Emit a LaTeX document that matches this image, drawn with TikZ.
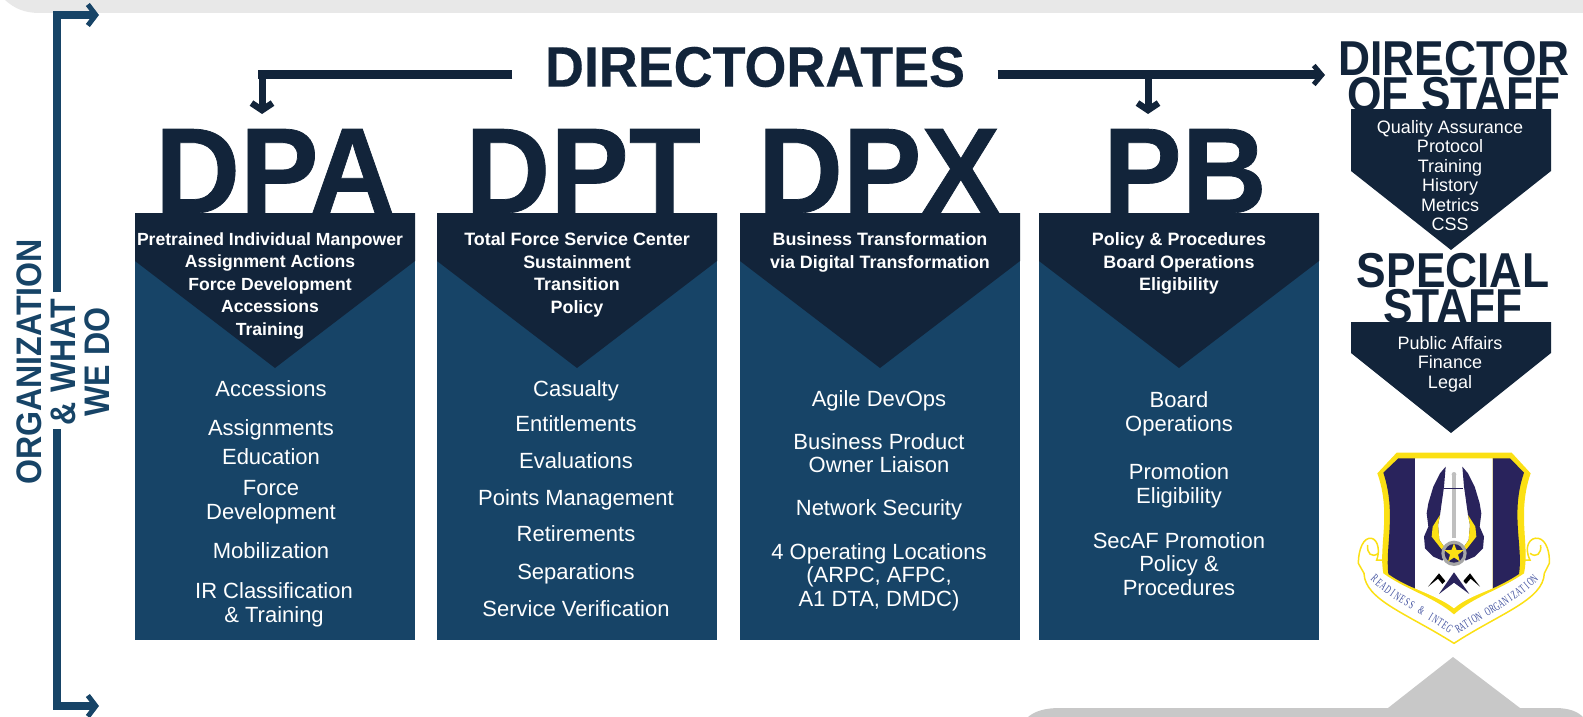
\documentclass[tikz,border=0pt]{standalone}
\usepackage{fontspec}
\setmainfont{Liberation Sans}
\newfontfamily\bigfont[FakeStretch=0.905]{Liberation Sans}
\newfontfamily\namefont[FakeStretch=0.965,FakeBold=0.6]{Liberation Sans}
\newfontfamily\titlefont[FakeStretch=0.945,FakeBold=0.3]{Liberation Sans}
\newfontfamily\crestfont[FakeStretch=0.6]{Liberation Serif}
\usetikzlibrary{arrows.meta,positioning,shapes.geometric}
\definecolor{navy}{HTML}{12243A}
\definecolor{teal}{HTML}{174467}
\definecolor{lightband}{HTML}{E8E8E8}
\definecolor{darkband}{HTML}{C8C8C8}
\definecolor{crestblue}{HTML}{29235C}
\definecolor{crestgold}{HTML}{FBE014}
\definecolor{crestletter}{HTML}{3F4F9E}
\tikzset{
  column/.style = {fill = teal},
  header/.style = {fill = navy},
  bigname/.style = {font = \fontsize{122}{122}\namefont\bfseries, text = navy, anchor = base, inner sep = 0pt},
  headtext/.style = {font = \fontsize{17.9}{22.5}\selectfont\bfseries, text = white, align = center, anchor = north, inner sep = 0pt},
  bodytext/.style = {font = \fontsize{22}{23.5}\selectfont, text = white, align = center, inner sep = 0pt},
  sidetext/.style = {font = \fontsize{18}{19.5}\selectfont, text = white, align = center, anchor = north, inner sep = 0pt},
  sidehead/.style = {font = \fontsize{49}{36}\bigfont\bfseries, text = navy, align = center, anchor = north, inner sep = 0pt},
  navyline/.style = {draw = navy, line width = 9pt},
  navyarrow/.style = {draw = navy, line width = 7pt, -{Straight Barb[length = 7pt, width = 21pt, line width = 6.5pt]}},
  orgline/.style = {draw = teal, line width = 8pt, -{Straight Barb[length = 8pt, width = 21pt, line width = 5pt]}},
  crestletter/.style = {font = \fontsize{12}{12}\crestfont, text = crestletter, inner sep = 0pt, sloped}
}
\begin{document}
\begin{tikzpicture}[x = 1pt, y = -1pt]
    \useasboundingbox (0,0) rectangle (1583,717);
    % grey bands
    \fill[lightband] (5,0) .. controls (15,9) and (25,13) .. (40,13) -- (1583,13) -- (1583,0) -- cycle;
    \fill[darkband] (1388,708) -- (1453,657) -- (1520,708) -- (1555,708) .. controls (1570,708) and (1578,712) .. (1583,717) -- (1028,717) .. controls (1035,711) and (1045,708) .. (1060,708) -- cycle;
    % left bracket
    \node[rotate = 90, font = \fontsize{35.5}{34}\bigfont\bfseries, text = teal, align = center, inner sep = 0pt] (org) at (63,362) {ORGANIZATION\\\& WHAT\\WE DO};
    \coordinate (orgup) at (57,292);
    \coordinate (orgupend) at (99,15);
    \coordinate (orgdown) at (57,429);
    \coordinate (orgdownend) at (99,706);
    \draw[orgline] (orgup) |- (orgupend);
    \draw[orgline] (orgdown) |- (orgdownend);
    % title
    \node[font = \fontsize{57}{57}\titlefont\bfseries, text = navy, inner xsep = 0pt, minimum width = 485pt] (dir) at (755,67) {DIRECTORATES};
    \node[sidehead] (dos) at (1454,41) {DIRECTOR\\OF STAFF};
    \coordinate (dpatip) at (262,114);
    \coordinate (pbtip) at (1148,114);
    \coordinate (dostip) at (1325,75);
    \coordinate (dpacorner) at (262,75);
    \coordinate (pbcorner) at (1148,75);
    \draw[navyline] (dir.west |- dostip) -- ([xshift = -4.5pt]dpacorner);
    \draw[navyarrow] ([yshift = -3pt]dpacorner) -- (dpatip);
    \draw[navyline] (dir.east |- dostip) -- ([xshift = -8pt]dostip);
    \draw[draw = navy, line width = 5pt, -{Straight Barb[length = 8pt, width = 19pt, line width = 5pt]}] ([xshift = -10pt]dostip) -- (dostip);
    \draw[navyarrow] (pbcorner) -- (pbtip);
    % the four directorates
    \node[bigname] (dpa) at (275,213) {DPA};
    \node[bigname] (dpt) at (583,213) {DPT};
    \node[bigname] (dpx) at (879,213) {DPX};
    \node[bigname] (pb) at (1185,213) {PB};
    \foreach \xa/\xb/\name in {135/415/a, 437/717/t, 740/1020/x, 1039/1319/b} {
      \fill[column] (\xa,240) rectangle (\xb,640);
      \fill[header] (\xa,213) -- (\xb,213) -- (\xb,261) -- ({(\xa+\xb)/2},368) -- (\xa,261) -- cycle;
    }
    \node[headtext, font = \fontsize{17.6}{22.5}\selectfont\bfseries] (dpahead) at (270,232.5) {Pretrained Individual Manpower\\Assignment Actions\\Force Development\\Accessions\\Training};
    \node[headtext] (dpthead) at (577,232.5) {Total Force Service Center\\Sustainment\\Transition\\Policy};
    \node[headtext] (dpxhead) at (880,232.5) {Business Transformation\\via Digital Transformation};
    \node[headtext] (pbhead) at (1179,232.5) {Policy \& Procedures\\Board Operations\\Eligibility};
    % DPA list
    \node[bodytext] (pa1) at (271,389) {Accessions};
    \node[bodytext] (pa2) at (271,430) {Assignments};
    \node[bodytext] (pa3) at (271,457) {Education};
    \node[bodytext] (pa4) at (271,502) {Force\\Development};
    \node[bodytext] (pa5) at (271,551) {Mobilization};
    \node[bodytext] (pa6) at (274,605) {IR Classification\\\& Training};
    % DPT list
    \node[bodytext] (pt1) at (576,391) {Casualty};
    \node[bodytext] (pt2) at (576,424) {Entitlements};
    \node[bodytext] (pt3) at (576,461) {Evaluations};
    \node[bodytext] (pt4) at (576,500) {Points Management};
    \node[bodytext] (pt5) at (576,534) {Retirements};
    \node[bodytext] (pt6) at (576,574) {Separations};
    \node[bodytext] (pt7) at (576,609) {Service Verification};
    % DPX list
    \node[bodytext] (px1) at (879,401) {Agile DevOps};
    \node[bodytext] (px2) at (879,453) {Business Product\\Owner Liaison};
    \node[bodytext] (px3) at (879,510) {Network Security};
    \node[bodytext] (px4) at (879,577) {4 Operating Locations\\(ARPC, AFPC,\\A1 DTA, DMDC)};
    % PB list
    \node[bodytext] (pb1) at (1179,414) {Board\\Operations};
    \node[bodytext] (pb2) at (1179,486) {Promotion\\Eligibility};
    \node[bodytext] (pb3) at (1179,564) {SecAF Promotion\\Policy \&\\Procedures};
    % right panel
    \fill[header] (1351,109) -- (1551,109) -- (1551,171) -- (1451,250) -- (1351,171) -- cycle;
    \node[sidetext] (qa) at (1450,120) {Quality Assurance\\Protocol\\Training\\History\\Metrics\\CSS};
    \node[sidehead] (spec) at (1453,253) {SPECIAL\\STAFF};
    \fill[header] (1351,322) -- (1551,322) -- (1551,353) -- (1451,433) -- (1351,353) -- cycle;
    \node[sidetext] (pub) at (1450,336) {Public Affairs\\Finance\\Legal};
    % crest
    \begin{scope}[shift = {(1300,430)}, scale = 1/3]
      \fill[white, draw = crestgold, line width = 1.5pt] (175,400) .. controls (175,360) and (190,320) .. (215,325) .. controls (235,330) and (240,365) .. (230,390) -- (690,390) .. controls (670,350) and (690,320) .. (715,325) .. controls (740,330) and (750,370) .. (748,400) -- (733,430) .. controls (730,510) and (600,550) .. (462,640) .. controls (320,550) and (195,510) .. (192,430) -- cycle;
      \draw[crestgold, line width = 1.5pt] (203,345) .. controls (200,370) and (215,385) .. (235,370);
      \draw[crestgold, line width = 1.5pt] (722,345) .. controls (725,370) and (710,385) .. (690,370);
      \fill[crestgold] (290,68) -- (635,68) -- (692,130) .. controls (650,250) and (690,350) .. (672,430) .. controls (600,480) and (520,500) .. (462,553) .. controls (400,500) and (320,480) .. (250,430) .. controls (235,350) and (275,250) .. (232,130) -- cycle;
      \fill[crestblue] (295,85) -- (345,85) -- (345,475) .. controls (320,465) and (290,450) .. (265,432) .. controls (255,350) and (290,250) .. (250,128) -- cycle;
      \fill[crestblue] (630,85) -- (578,85) -- (578,475) .. controls (600,465) and (630,450) .. (657,432) .. controls (670,350) and (630,250) .. (672,128) -- cycle;
      \fill[white] (345,85) -- (578,85) -- (578,475) .. controls (530,495) and (490,510) .. (462,535) .. controls (430,510) and (390,495) .. (345,475) -- cycle;
      % wings
      \fill[crestblue] (437,110) -- (420,130) -- (400,170) -- (385,220) -- (380,250) -- (385,290) -- (372,320) -- (375,355) -- (400,380) -- (428,392) -- (432,350) -- (418,330) -- (414,285) -- (420,255) -- (432,170) -- cycle;
      \fill[crestblue] (487,110) -- (504,130) -- (524,170) -- (539,220) -- (544,250) -- (539,290) -- (552,320) -- (549,355) -- (524,380) -- (496,392) -- (492,350) -- (506,330) -- (510,285) -- (504,255) -- (492,170) -- cycle;
      \fill[crestgold] (420,255) -- (398,290) -- (395,320) -- (425,358) -- (432,350) -- (418,330) -- (414,285) -- cycle;
      \fill[crestgold] (504,255) -- (526,290) -- (529,320) -- (499,358) -- (492,350) -- (506,330) -- (510,285) -- cycle;
      % sword and star
      \fill[lightgray] (456,135) rectangle (468,325);
      \fill[lightgray] (462,133) circle (7);
      \draw[crestblue, line width = .6pt] (432,176) -- (490,176);
      \fill[gray!70] (462,370) circle (38);
      \fill[crestblue] (462,370) circle (28);
      \node[star, star points = 5, star point ratio = 2.4, fill = crestgold, minimum size = 20pt, inner sep = 0pt] (crest) at (462,370) {};
      % peaks
      \fill[black] (384,470) -- (417,430) -- (436,453) -- (427,462) -- (414,446) -- cycle;
      \fill[black] (540,470) -- (510,430) -- (490,453) -- (498,462) -- (512,446) -- cycle;
      \fill[crestblue] (417,492) -- (462,427) -- (508,492) -- (462,458) -- cycle;
      % scroll text
      \foreach \ltr [count = \i] in {R,E,A,D,I,N,E,S,S, ,\&, ,I,N,T,E,G} {
        \path (218,440) .. controls (290,510) and (380,545) .. (455,600) node[crestletter, pos = {(\i-.5)/17}] (lefttr\i) {\ltr};
      }
      \foreach \ltr [count = \i] in {R,A,T,I,O,N, ,O,R,G,A,N,I,Z,A,T,I,O,N} {
        \path (469,600) .. controls (540,555) and (640,510) .. (708,440) node[crestletter, pos = {(\i-.5)/19}] (righttr\i) {\ltr};
      }
    \end{scope}
\end{tikzpicture}
\end{document}
